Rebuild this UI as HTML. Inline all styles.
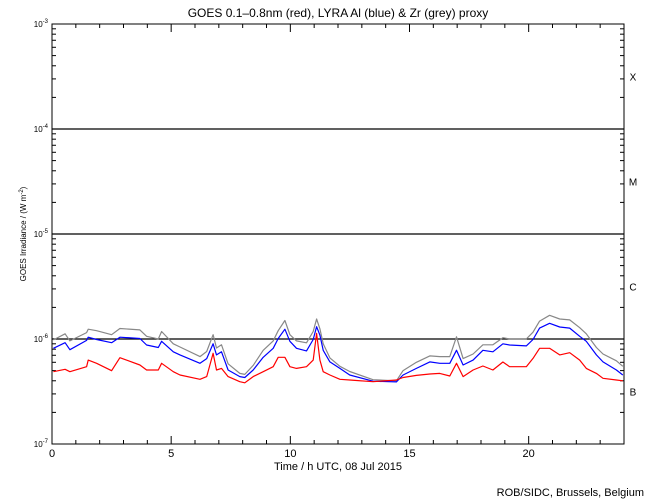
<!DOCTYPE html>
<html><head><meta charset="utf-8"><style>
body{margin:0;background:#fff;}
svg{display:block;font-family:"Liberation Sans",sans-serif;}
</style></head><body>
<svg id="chart" width="650" height="500" viewBox="0 0 650 500">
<rect width="650" height="500" fill="#fff"/>
<text x="338" y="17" font-size="12" text-anchor="middle">GOES 0.1–0.8nm (red), LYRA Al (blue) &amp; Zr (grey) proxy</text>
<text x="338" y="470" font-size="11" text-anchor="middle">Time / h UTC, 08 Jul 2015</text>
<text x="644" y="496" font-size="11" text-anchor="end">ROB/SIDC, Brussels, Belgium</text>
<text transform="translate(26,234) rotate(-90)" font-size="8" text-anchor="middle">GOES Irradiance / (W m<tspan dy="-3" font-size="6">-2</tspan><tspan dy="3">)</tspan></text>
<g id="axes"></g>
<g id="series"></g>
</svg>
<script>
const hours=[0.06,0.55,0.75,1.45,1.52,1.87,2.50,2.85,3.69,3.97,4.46,4.60,5.09,5.37,6.21,6.49,6.76,6.90,7.11,7.39,7.88,8.09,8.44,8.86,9.28,9.49,9.77,9.98,10.26,10.68,10.96,11.10,11.24,11.38,11.66,12.08,
12.49,13.47,14.45,14.73,15.29,15.85,16.27,16.69,16.97,17.25,17.67,18.08,18.50,18.92,19.20,19.90,20.18,20.46,20.88,21.30,21.72,22.14,22.42,22.84,23.12,23.68,23.95];
// values in units of 1e-7 W m^-2
const goesRed=[4.88,5.14,4.88,5.45,6.3,5.87,4.99,6.63,5.66,5.07,5.07,5.87,4.88,4.54,4.13,4.38,7.31,5.07,5.25,4.38,3.92,3.83,4.38,4.88,5.45,6.69,6.69,5.45,5.25,5.45,6.3,11.3,6.3,4.88,4.54,4.13,
4.07,3.92,4.07,4.3,4.5,4.64,4.7,4.44,5.87,4.38,5.07,5.53,5.07,6.04,5.45,5.45,6.54,8.15,8.15,7.05,7.4,6.3,5.25,4.7,4.22,4.07,4.0];
const lyraBlue=[8.15,9.22,7.9,9.7,10.4,9.9,9.22,10.4,10.1,8.77,8.3,9.5,7.55,7.05,5.87,6.5,9.0,7.05,7.55,5.07,4.38,4.3,5.07,6.7,8.15,10.1,12.4,9.5,8.15,7.7,9.9,13.1,10.9,7.8,6.05,5.25,
4.54,3.96,3.9,4.54,5.25,6.05,5.87,5.87,7.8,5.66,6.3,7.8,7.55,9.0,8.77,8.6,9.9,12.7,14.1,13.0,12.7,10.6,9.5,7.05,6.05,5.07,4.54];
const lyraGrey=[9.8,11.2,9.6,11.5,12.4,12.0,11.0,12.6,12.2,10.6,10.0,11.8,9.0,8.4,6.8,7.6,11.0,8.2,8.8,5.8,4.7,4.6,5.6,7.8,9.6,12.0,15.0,11.0,9.6,9.2,11.8,15.5,12.5,9.0,6.6,5.5,
4.9,4.1,4.0,5.0,6.0,6.9,6.8,6.8,10.5,6.5,7.2,8.8,8.8,10.3,10.0,10.0,11.6,14.8,16.8,15.5,15.2,12.8,11.2,8.3,7.2,6.2,5.5];
const xTicks=[0,5,10,15,20];
const yExps=[-3,-4,-5,-6,-7];
const classes=["X","M","C","B"];

const L=52,R=624,T=24,B=444;
const xs=h=>L+(R-L)*h/24;
const ys=v=>B-105*(Math.log10(v)+7); // v in W m^-2
const NS="http://www.w3.org/2000/svg";
function mk(tag,attrs,parent){const e=document.createElementNS(NS,tag);for(const k in attrs)e.setAttribute(k,attrs[k]);parent.appendChild(e);return e;}
const ax=document.getElementById('axes');
const fr=mk('rect',{x:L,y:T,width:R-L,height:B-T,fill:'none',stroke:'#000','stroke-width':1},ax);


for(let d=-7;d<-3;d++){
  for(let m=1;m<10;m++){
    const y=ys(m*Math.pow(10,d));const len=(m===1)?8:4;
    const t1=mk('line',{x1:L,x2:L+len,y1:y,y2:y,stroke:'#000'},ax);
    
    
    const t2=mk('line',{x1:R,x2:R-len,y1:y,y2:y,stroke:'#000'},ax);
    
    
  }
}
yExps.forEach(e=>{
  const y=ys(Math.pow(10,e));
  const tx=mk('text',{x:L-4,y:y+3,'font-size':8,'text-anchor':'end'},ax);
  
  
  tx.innerHTML='10<tspan dy="-4" font-size="6">'+e+'</tspan>';
  if(e>-7&&e<-3){
    const g=mk('line',{x1:L,x2:R,y1:y,y2:y,stroke:'#000','stroke-width':1.3},ax);
    
    
  }
});
classes.forEach((c,i)=>{
  const y=ys(Math.pow(10,-3-i)*Math.sqrt(0.1));
  const tx=mk('text',{x:633,y:y+4,'font-size':10,'text-anchor':'middle'},ax);
  
  
  tx.textContent=c;
});
for(let h=0;h<=24;h++){
  const x=xs(h);const len=(h%5===0)?8:4;
  const a=mk('line',{x1:x,x2:x,y1:B,y2:B-len,stroke:'#000'},ax);
  
  
  const b=mk('line',{x1:x,x2:x,y1:T,y2:T+len,stroke:'#000'},ax);
  
  
}
xTicks.forEach(h=>{
  const tx=mk('text',{x:xs(h),y:B+13,'font-size':11,'text-anchor':'middle'},ax);
  
  
  tx.textContent=h;
});
const sg=document.getElementById('series');
[[lyraGrey,'#888','zr-grey-series'],[lyraBlue,'#0000ff','al-blue-series'],[goesRed,'#ff0000','goes-red-series']].forEach(([arr,col,name])=>{
  const pts=hours.map((h,i)=>xs(h).toFixed(1)+','+ys(arr[i]*1e-7).toFixed(1)).join(' ');
  const p=mk('polyline',{points:pts,fill:'none',stroke:col,'stroke-width':1.2,'stroke-linejoin':'round'},sg);
  
  
});
</script>
</body></html>
